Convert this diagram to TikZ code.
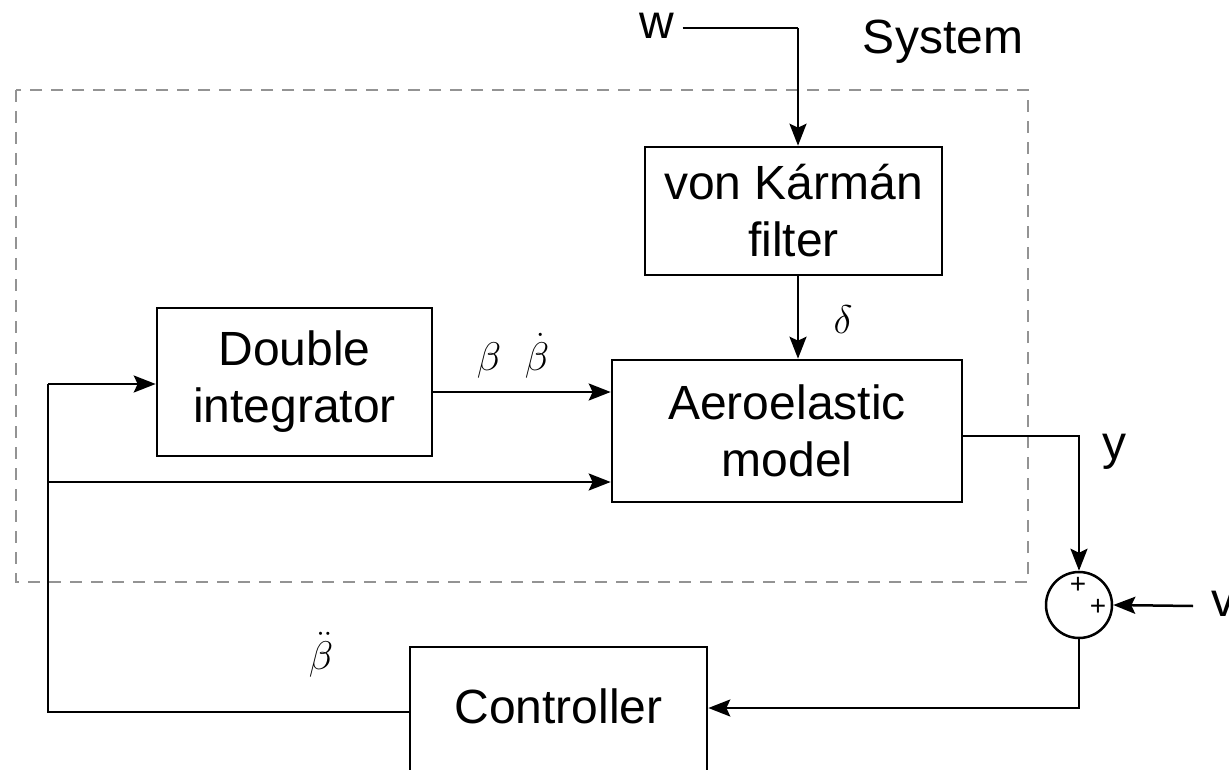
\RequirePackage{fix-cm}
\documentclass[tikz,border=0pt]{standalone}
\usepackage{fontspec}
\setmainfont{Liberation Sans}
\usetikzlibrary{arrows.meta}
\begin{document}
\begin{tikzpicture}[x=1pt,y=-1pt,
  blk/.style={draw,line width=2.6pt,inner sep=0pt,align=center,font=\fontsize{48}{57}\selectfont},
  lbl/.style={inner sep=0pt,font=\fontsize{48}{57}\selectfont},
  glbl/.style={inner sep=0pt,font=\fontsize{40}{42}\selectfont},
  pls/.style={inner sep=0pt,font=\fontsize{28}{28}\selectfont},
  conn/.style={line width=2.5pt,-{Stealth[length=22pt,width=17pt,inset=4pt]}},
  wire/.style={line width=2.5pt}]
\useasboundingbox (0,0) rectangle (1229,770);
% system boundary
\draw[gray!85,line width=2.4pt,dash pattern=on 12pt off 9pt] (16,90) rectangle (1028,582);
\node[lbl] (sys) at (943,42) {System};
% blocks
\node[blk,minimum width=297pt,minimum height=128pt] (vk) at (793.5,211) {von Kármán\\filter};
\node[blk,minimum width=350pt,minimum height=142pt] (ae) at (787,431) {Aeroelastic\\model};
\node[blk,minimum width=275pt,minimum height=148pt] (di) at (294.5,382) {Double\\integrator};
\node[blk,minimum width=297pt,minimum height=150pt,text depth=0pt] (ct) at (558.5,722) {};
\node[lbl] (cttext) at (558.5,706) {Controller};
\node[draw,circle,line width=2.5pt,minimum size=66pt,inner sep=0pt] (sum) at (1079,605) {};
\node[pls] (p1) at (1078,585) {+};
\node[pls] (p2) at (1098,607) {+};
% inputs
\node[lbl] (w) at (657,26) {w};
\node[lbl] (v) at (1223,604) {v};
\coordinate (wc) at (798,28);
\draw[wire] (w.east |- wc) ++(8,0) coordinate (ws) -- (wc);
\draw[conn] (wc) -- (vk.north -| wc);
% delta
\draw[conn] (vk.south -| wc) -- (ae.north -| wc);
\node[glbl] (delta) at (843,320) {$\delta$};
% beta
\draw[conn] (di.east |- 0,392) -- (ae.west |- 0,392);
\node[glbl] (b1) at (489,360) {$\beta$};
\node[glbl] (b2) at (537,356) {$\dot\beta$};
% left loop
\coordinate (lt) at (48,384);
\coordinate (lm) at (48,482);
\coordinate (lb) at (48,712);
\draw[conn] (lt) -- (di.west |- lt);
\draw[conn] (lm) -- (ae.west |- lm);
\draw[wire] (ct.west |- lb) -- (lb) -- (lt);
\node[glbl] (b3) at (321,655) {$\ddot\beta$};
% output
\coordinate (yc) at (1079,436);
\draw[conn] (ae.east |- yc) -- (yc) -- (sum.north);
\node[lbl] (y) at (1114,452) {y};
\draw[conn] (1193,606) coordinate (vs) -- (sum.east);
\coordinate (sb) at (1079,708);
\draw[conn] (sum.south) -- (sb) -- (ct.east |- sb);
\end{tikzpicture}
\end{document}
